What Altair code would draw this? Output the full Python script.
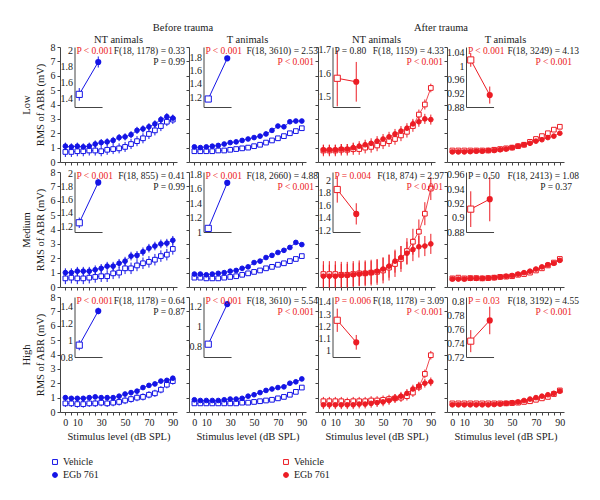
import altair as alt
import pandas as pd

FONT = "Liberation Serif"
BLUE = "#1414e6"
RED = "#ec1c24"
BLACK = "#1a1a1a"
AXC = "#444444"

LEVELS = [0, 5, 10, 15, 20, 25, 30, 35, 40, 45, 50, 55, 60, 65, 70, 75, 80, 85, 90]
LABELED = [0, 10, 30, 50, 70, 90]
ROW_NAMES = ["Low", "Medium", "High"]
COL_NAMES = ["NT animals", "T animals", "NT animals", "T animals"]
GROUP_NAMES = ["Before trauma", "After trauma"]
SERIES = ["Vehicle", "EGb 761"]

# ---------------- main curves (mean RMS of ABR, mV; +/- error) ----------------
low_nt_before = dict(
    veh=[0.7, 0.7, 0.75, 0.75, 0.8, 0.8, 0.75, 0.85, 0.9, 0.95, 1.05, 1.25, 1.45, 1.65, 1.95, 2.2, 2.5, 2.8, 2.95],
    veh_err=[0.35, 0.35, 0.35, 0.35, 0.35, 0.35, 0.35, 0.35, 0.35, 0.35, 0.35, 0.35, 0.35, 0.35, 0.35, 0.35, 0.35, 0.3, 0.3],
    egb=[1.1, 1.05, 1.1, 1.05, 1.1, 1.25, 1.35, 1.4, 1.5, 1.7, 1.75, 1.9, 2.2, 2.3, 2.45, 2.65, 2.95, 3.15, 3.05],
    egb_err=[0.25, 0.25, 0.25, 0.25, 0.25, 0.25, 0.25, 0.25, 0.25, 0.25, 0.25, 0.25, 0.25, 0.25, 0.25, 0.25, 0.25, 0.25, 0.25],
)
low_t_before = dict(
    veh=[0.75, 0.75, 0.75, 0.75, 0.8, 0.8, 0.85, 0.9, 0.95, 1.0, 1.1, 1.2, 1.35, 1.5, 1.65, 1.8, 2.0, 2.15, 2.35],
    veh_err=[0.08, 0.08, 0.08, 0.08, 0.08, 0.08, 0.08, 0.08, 0.08, 0.08, 0.08, 0.08, 0.08, 0.08, 0.08, 0.08, 0.08, 0.08, 0.08],
    egb=[1.05, 1.0, 1.05, 1.1, 1.15, 1.25, 1.35, 1.4, 1.5, 1.6, 1.7, 1.8, 1.95, 2.2, 2.5, 2.45, 2.8, 2.85, 2.85],
    egb_err=[0.12, 0.12, 0.12, 0.12, 0.12, 0.12, 0.12, 0.12, 0.12, 0.12, 0.12, 0.12, 0.12, 0.12, 0.12, 0.12, 0.12, 0.12, 0.12],
)
low_nt_after = dict(
    veh=[0.8, 0.8, 0.8, 0.85, 0.85, 0.9, 0.9, 1.0, 1.05, 1.15, 1.3, 1.45, 1.6, 1.85, 2.1, 2.5, 3.3, 4.0, 5.15],
    veh_err=[0.4, 0.4, 0.4, 0.4, 0.4, 0.4, 0.4, 0.4, 0.4, 0.4, 0.4, 0.4, 0.4, 0.4, 0.4, 0.4, 0.35, 0.35, 0.3],
    egb=[0.85, 0.85, 0.85, 0.9, 0.9, 1.0, 1.1, 1.2, 1.3, 1.45, 1.6, 1.75, 1.95, 2.15, 2.35, 2.65, 2.8, 3.0, 2.95],
    egb_err=[0.35, 0.35, 0.35, 0.35, 0.35, 0.35, 0.35, 0.35, 0.35, 0.35, 0.35, 0.35, 0.35, 0.35, 0.35, 0.35, 0.35, 0.35, 0.35],
)
low_t_after = dict(
    veh=[0.8, 0.8, 0.8, 0.8, 0.8, 0.8, 0.8, 0.85, 0.9, 0.95, 1.0, 1.1, 1.2, 1.4, 1.6, 1.8, 2.0, 2.25, 2.45],
    veh_err=[0.05, 0.05, 0.05, 0.05, 0.05, 0.05, 0.05, 0.05, 0.05, 0.05, 0.05, 0.05, 0.05, 0.05, 0.05, 0.05, 0.05, 0.05, 0.05],
    egb=[0.7, 0.7, 0.7, 0.72, 0.75, 0.75, 0.8, 0.8, 0.85, 0.9, 1.0, 1.1, 1.2, 1.3, 1.45, 1.55, 1.7, 1.8, 2.0],
    egb_err=[0.06, 0.06, 0.06, 0.06, 0.06, 0.06, 0.06, 0.06, 0.06, 0.06, 0.06, 0.06, 0.06, 0.06, 0.06, 0.06, 0.06, 0.06, 0.06],
)
med_nt_before = dict(
    veh=[0.6, 0.65, 0.6, 0.6, 0.65, 0.7, 0.75, 0.75, 0.95, 1.0, 1.3, 1.3, 1.5, 1.65, 1.75, 1.9, 2.15, 2.25, 2.65],
    veh_err=[0.4, 0.4, 0.4, 0.4, 0.4, 0.4, 0.4, 0.4, 0.4, 0.4, 0.4, 0.4, 0.4, 0.4, 0.4, 0.4, 0.4, 0.4, 0.4],
    egb=[1.0, 1.0, 1.1, 1.1, 1.1, 1.2, 1.3, 1.45, 1.45, 1.65, 1.8, 2.15, 2.2, 2.45, 2.7, 2.85, 3.0, 3.05, 3.25],
    egb_err=[0.3, 0.3, 0.3, 0.3, 0.3, 0.3, 0.3, 0.3, 0.3, 0.3, 0.3, 0.3, 0.3, 0.3, 0.3, 0.3, 0.3, 0.3, 0.3],
)
med_t_before = dict(
    veh=[0.65, 0.65, 0.6, 0.6, 0.6, 0.65, 0.7, 0.75, 0.85, 0.95, 1.05, 1.15, 1.3, 1.4, 1.55, 1.65, 1.8, 1.95, 2.15],
    veh_err=[0.08, 0.08, 0.08, 0.08, 0.08, 0.08, 0.08, 0.08, 0.08, 0.08, 0.08, 0.08, 0.08, 0.08, 0.08, 0.08, 0.08, 0.08, 0.08],
    egb=[0.9, 0.9, 0.85, 0.9, 0.95, 1.0, 1.1, 1.15, 1.3, 1.4, 1.7, 1.8, 2.05, 2.2, 2.4, 2.55, 2.75, 3.1, 2.95],
    egb_err=[0.1, 0.1, 0.1, 0.1, 0.1, 0.1, 0.1, 0.1, 0.1, 0.1, 0.1, 0.1, 0.1, 0.1, 0.1, 0.1, 0.1, 0.1, 0.1],
)
med_nt_after = dict(
    veh=[0.9, 0.9, 0.9, 0.85, 0.85, 0.9, 0.95, 0.95, 1.0, 1.05, 1.15, 1.35, 1.6, 1.95, 2.5, 3.15, 3.85, 5.1, 6.85],
    veh_err=[0.9, 0.9, 0.9, 0.9, 0.9, 0.9, 0.9, 0.9, 0.9, 0.9, 0.9, 0.9, 0.9, 0.9, 0.9, 0.9, 0.85, 0.8, 0.8],
    egb=[0.75, 0.75, 0.75, 0.8, 0.8, 0.85, 0.9, 0.95, 1.0, 1.1, 1.25, 1.45, 1.8, 2.05, 2.35, 2.6, 2.8, 2.85, 3.0],
    egb_err=[0.8, 0.8, 0.8, 0.8, 0.8, 0.8, 0.8, 0.8, 0.8, 0.8, 0.8, 0.8, 0.8, 0.8, 0.8, 0.8, 0.75, 0.7, 0.7],
)
med_t_after = dict(
    veh=[0.6, 0.65, 0.6, 0.62, 0.62, 0.6, 0.62, 0.65, 0.7, 0.72, 0.75, 0.85, 0.9, 1.0, 1.15, 1.3, 1.5, 1.7, 1.95],
    veh_err=[0.05, 0.05, 0.05, 0.05, 0.05, 0.05, 0.05, 0.05, 0.05, 0.05, 0.05, 0.05, 0.05, 0.05, 0.05, 0.05, 0.05, 0.05, 0.05],
    egb=[0.55, 0.55, 0.55, 0.6, 0.6, 0.6, 0.62, 0.65, 0.7, 0.75, 0.8, 0.9, 1.0, 1.1, 1.25, 1.4, 1.55, 1.65, 1.85],
    egb_err=[0.05, 0.05, 0.05, 0.05, 0.05, 0.05, 0.05, 0.05, 0.05, 0.05, 0.05, 0.05, 0.05, 0.05, 0.05, 0.05, 0.05, 0.05, 0.05],
)
high_nt_before = dict(
    veh=[0.6, 0.6, 0.55, 0.55, 0.6, 0.6, 0.65, 0.6, 0.65, 0.7, 0.8, 0.9, 1.0, 1.05, 1.2, 1.3, 1.55, 1.9, 2.15],
    veh_err=[0.25, 0.25, 0.25, 0.25, 0.25, 0.25, 0.25, 0.25, 0.25, 0.25, 0.25, 0.25, 0.25, 0.25, 0.25, 0.25, 0.25, 0.25, 0.25],
    egb=[1.0, 0.95, 0.95, 0.95, 1.0, 1.05, 1.0, 1.0, 1.0, 1.1, 1.25, 1.35, 1.45, 1.7, 1.85, 1.95, 2.15, 2.2, 2.35],
    egb_err=[0.15, 0.15, 0.15, 0.15, 0.15, 0.15, 0.15, 0.15, 0.15, 0.15, 0.15, 0.15, 0.15, 0.15, 0.15, 0.15, 0.15, 0.15, 0.15],
)
high_t_before = dict(
    veh=[0.6, 0.6, 0.6, 0.6, 0.6, 0.6, 0.6, 0.6, 0.65, 0.65, 0.7, 0.75, 0.8, 0.85, 0.95, 1.05, 1.2, 1.4, 1.7],
    veh_err=[0.06, 0.06, 0.06, 0.06, 0.06, 0.06, 0.06, 0.06, 0.06, 0.06, 0.06, 0.06, 0.06, 0.06, 0.06, 0.06, 0.06, 0.06, 0.06],
    egb=[0.85, 0.8, 0.8, 0.8, 0.8, 0.85, 0.9, 0.9, 0.95, 1.1, 1.2, 1.35, 1.5, 1.6, 1.7, 1.75, 2.0, 2.1, 2.3],
    egb_err=[0.06, 0.06, 0.06, 0.06, 0.06, 0.06, 0.06, 0.06, 0.06, 0.06, 0.06, 0.06, 0.06, 0.06, 0.06, 0.06, 0.06, 0.06, 0.06],
)
high_nt_after = dict(
    veh=[0.75, 0.75, 0.75, 0.75, 0.7, 0.75, 0.75, 0.75, 0.8, 0.8, 0.85, 0.9, 0.95, 1.0, 1.1, 1.35, 1.75, 2.65, 3.95],
    veh_err=[0.3, 0.3, 0.3, 0.3, 0.3, 0.3, 0.3, 0.3, 0.3, 0.3, 0.3, 0.3, 0.3, 0.3, 0.3, 0.3, 0.3, 0.3, 0.3],
    egb=[0.5, 0.5, 0.5, 0.5, 0.5, 0.5, 0.55, 0.55, 0.6, 0.65, 0.7, 0.8, 0.95, 1.1, 1.3, 1.6, 1.8, 2.0, 2.1],
    egb_err=[0.3, 0.3, 0.3, 0.3, 0.3, 0.3, 0.3, 0.3, 0.3, 0.3, 0.3, 0.3, 0.3, 0.3, 0.3, 0.3, 0.3, 0.3, 0.3],
)
high_t_after = dict(
    veh=[0.6, 0.6, 0.6, 0.6, 0.6, 0.6, 0.6, 0.6, 0.6, 0.6, 0.62, 0.65, 0.7, 0.75, 0.85, 0.95, 1.05, 1.25, 1.5],
    veh_err=[0.04, 0.04, 0.04, 0.04, 0.04, 0.04, 0.04, 0.04, 0.04, 0.04, 0.04, 0.04, 0.04, 0.04, 0.04, 0.04, 0.04, 0.04, 0.04],
    egb=[0.5, 0.5, 0.5, 0.5, 0.5, 0.5, 0.5, 0.52, 0.55, 0.6, 0.65, 0.7, 0.8, 0.9, 1.0, 1.1, 1.2, 1.3, 1.45],
    egb_err=[0.04, 0.04, 0.04, 0.04, 0.04, 0.04, 0.04, 0.04, 0.04, 0.04, 0.04, 0.04, 0.04, 0.04, 0.04, 0.04, 0.04, 0.04, 0.04],
)

# ---------------- insets (overall mean +/- error, axis domain and ticks) ----------------
low_nt_before_in = dict(veh=1.45, veh_err=0.08, egb=1.86, egb_err=0.07, lo=1.29, hi=2.05, ticks=[1.4, 1.6, 1.8, 2.0])
low_t_before_in = dict(veh=1.17, veh_err=0.03, egb=1.78, egb_err=0.04, lo=1.05, hi=1.95, ticks=[1.2, 1.4, 1.6, 1.8])
low_nt_after_in = dict(veh=1.578, veh_err=0.12, egb=1.563, egb_err=0.085, lo=1.455, hi=1.712, ticks=[1.5, 1.6, 1.7])
low_t_after_in = dict(veh=1.018, veh_err=0.02, egb=0.915, egb_err=0.025, lo=0.88, hi=1.056, ticks=[0.88, 0.92, 0.96, 1.0, 1.04])
med_nt_before_in = dict(veh=1.25, veh_err=0.08, egb=1.87, egb_err=0.05, lo=1.108, hi=2.03, ticks=[1.2, 1.4, 1.6, 1.8, 2.0])
med_t_before_in = dict(veh=1.05, veh_err=0.03, egb=1.68, egb_err=0.04, lo=1.0, hi=1.83, ticks=[1.0, 1.2, 1.4, 1.6, 1.8])
med_nt_after_in = dict(veh=1.85, veh_err=0.21, egb=1.46, egb_err=0.17, lo=1.17, hi=2.13, ticks=[1.2, 1.4, 1.6, 1.8, 2.0])
med_t_after_in = dict(veh=0.912, veh_err=0.025, egb=0.926, egb_err=0.031, lo=0.88, hi=0.964, ticks=[0.88, 0.9, 0.92, 0.94, 0.96])
high_nt_before_in = dict(veh=0.94, veh_err=0.06, egb=1.344, egb_err=0.04, lo=0.8, hi=1.51, ticks=[0.8, 1.0, 1.2, 1.4])
high_t_before_in = dict(veh=0.826, veh_err=0.02, egb=1.22, egb_err=0.02, lo=0.70, hi=1.29, ticks=[0.8, 1.0, 1.2])
high_nt_after_in = dict(veh=1.25, veh_err=0.095, egb=1.07, egb_err=0.06, lo=0.95, hi=1.44, ticks=[1.0, 1.1, 1.2, 1.3, 1.4])
high_t_after_in = dict(veh=0.743, veh_err=0.016, egb=0.773, egb_err=0.02, lo=0.72, hi=0.807, ticks=[0.72, 0.74, 0.76, 0.78, 0.8])

# ---------------- statistics text: (inset P, significant?, F text, P text, significant?) ----------------
low_stats = [
    ("P < 0.001", True, "F(18, 1178) = 0.33", "P = 0.99", False),
    ("P < 0.001", True, "F(18, 3610) = 2.53", "P < 0.001", True),
    ("P = 0.80", False, "F(18, 1159) = 4.33", "P < 0.001", True),
    ("P < 0.001", True, "F(18, 3249) = 4.13", "P < 0.001", True),
]
med_stats = [
    ("P < 0.001", True, "F(18, 855) = 0.41", "P = 0.99", False),
    ("P < 0.001", True, "F(18, 2660) = 4.88", "P < 0.001", True),
    ("P = 0.004", True, "F(18, 874) = 2.97", "P < 0.001", True),
    ("P = 0.50", False, "F(18, 2413) = 1.08", "P = 0.37", False),
]
high_stats = [
    ("P < 0.001", True, "F(18, 1178) = 0.64", "P = 0.87", False),
    ("P < 0.001", True, "F(18, 3610) = 5.54", "P < 0.001", True),
    ("P = 0.006", True, "F(18, 1178) = 3.09", "P < 0.001", True),
    ("P = 0.03", True, "F(18, 3192) = 4.55", "P < 0.001", True),
]

MAIN = [
    [low_nt_before, low_t_before, low_nt_after, low_t_after],
    [med_nt_before, med_t_before, med_nt_after, med_t_after],
    [high_nt_before, high_t_before, high_nt_after, high_t_after],
]
INSETS = [
    [low_nt_before_in, low_t_before_in, low_nt_after_in, low_t_after_in],
    [med_nt_before_in, med_t_before_in, med_nt_after_in, med_t_after_in],
    [high_nt_before_in, high_t_before_in, high_nt_after_in, high_t_after_in],
]
STATS = [low_stats, med_stats, high_stats]

# ---------------- layout ----------------
W, H = 117, 115
INSET_H = 60
SPACE_COL, SPACE_ROW = 12, 10
F_RIGHT = [8, 12, 9, 15]
ANN_SIZE = 9.5


def txt(s, x, y, color=BLACK, align="left", size=ANN_SIZE):
    return alt.Chart(pd.DataFrame({"t": [s]})).mark_text(
        font=FONT, fontSize=size, align=align, baseline="alphabetic", color=color
    ).encode(text="t:N", x=alt.value(x), y=alt.value(y))


def panel(r, c):
    color = BLUE if c < 2 else RED
    d = MAIN[r][c]
    rows = []
    for name, key in zip(SERIES, ["veh", "egb"]):
        for x, m, e in zip(LEVELS, d[key], d[key + "_err"]):
            rows.append(dict(x=x, m=m, lo=m - e, hi=m + e, grp=name))
    df = pd.DataFrame(rows)

    xaxis = alt.Axis(
        values=LEVELS,
        labels=(r == 2),
        labelExpr="indexof([0, 10, 30, 50, 70, 90], datum.value) >= 0 ? datum.label : ''",
        title="Stimulus level (dB SPL)" if r == 2 else None,
        tickSize=3, labelPadding=2, titlePadding=4, grid=False,
    )
    yaxis = alt.Axis(
        values=[0, 1, 2, 3, 4, 5, 6, 7, 8],
        labels=(c == 0),
        title=[ROW_NAMES[r], "RMS of ABR (mV)"] if c == 0 else None,
        tickSize=3, labelPadding=2, titlePadding=5, titleLineHeight=14, grid=False,
    )
    xs = alt.Scale(domain=[-4.5, 93.5], nice=False, zero=False)
    ys = alt.Scale(domain=[0, 8], nice=False, zero=False)

    base = alt.Chart(df)
    bars = base.mark_rule(color=color, strokeWidth=1).encode(
        x=alt.X("x:Q", scale=xs, axis=xaxis),
        y=alt.Y("lo:Q", scale=ys, axis=yaxis),
        y2="hi:Q",
    )
    lines = base.mark_line(color=color, strokeWidth=0.8).encode(
        x=alt.X("x:Q", scale=xs, axis=xaxis),
        y=alt.Y("m:Q", scale=ys, axis=yaxis),
        detail="grp:N",
    )
    show_legend = (r == 2 and c in (0, 2))
    if show_legend:
        leg = alt.Legend(
            title=None, orient="none", legendX=-10 if c == 0 else -37, legendY=160,
            labelFont=FONT, labelFontSize=10, labelColor=BLACK, symbolSize=24,
            symbolStrokeWidth=1, rowPadding=3, labelOffset=3, symbolOffset=0, padding=0,
        )
    else:
        leg = None
    pts = base.mark_point(strokeWidth=1, size=22, opacity=1).encode(
        x=alt.X("x:Q", scale=xs, axis=xaxis),
        y=alt.Y("m:Q", scale=ys, axis=yaxis),
        shape=alt.Shape("grp:N", scale=alt.Scale(domain=SERIES, range=["square", "circle"]), legend=leg),
        fill=alt.Fill("grp:N", scale=alt.Scale(domain=SERIES, range=["white", color]), legend=leg),
        stroke=alt.Stroke("grp:N", scale=alt.Scale(domain=SERIES, range=[color, color]), legend=leg),
    )
    main = alt.layer(bars, lines, pts)

    # inset
    ins = INSETS[r][c]
    x0 = 19 if c == 3 else 14.5
    idf = pd.DataFrame([
        dict(ix=1, m=ins["veh"], lo=ins["veh"] - ins["veh_err"], hi=ins["veh"] + ins["veh_err"], grp="Vehicle"),
        dict(ix=2, m=ins["egb"], lo=ins["egb"] - ins["egb_err"], hi=ins["egb"] + ins["egb_err"], grp="EGb 761"),
    ])
    ixs = alt.Scale(domain=[0.75, 2.2], range=[x0, x0 + 27.55], nice=False, zero=False)
    iys = alt.Scale(domain=[ins["lo"], ins["hi"]], range=[INSET_H, 0], nice=False, zero=False)
    ixaxis = alt.Axis(orient="bottom", offset=INSET_H - H, labels=False, ticks=False, title=None, grid=False)
    iyaxis = alt.Axis(orient="left", offset=-x0, values=ins["ticks"], format="~g", ticks=False,
                      labelPadding=2, title=None, grid=False)
    ib = alt.Chart(idf)
    ibars = ib.mark_rule(color=color, strokeWidth=1).encode(
        x=alt.X("ix:Q", scale=ixs, axis=ixaxis), y=alt.Y("lo:Q", scale=iys, axis=iyaxis), y2="hi:Q")
    iline = ib.mark_line(color=color, strokeWidth=1).encode(
        x=alt.X("ix:Q", scale=ixs, axis=ixaxis), y=alt.Y("m:Q", scale=iys, axis=iyaxis))
    iveh = ib.transform_filter("datum.grp == 'Vehicle'").mark_point(
        shape="square", color=color, fill="white", filled=False, strokeWidth=1, size=38, opacity=1
    ).encode(x=alt.X("ix:Q", scale=ixs, axis=ixaxis), y=alt.Y("m:Q", scale=iys, axis=iyaxis))
    iegb = ib.transform_filter("datum.grp == 'EGb 761'").mark_point(
        shape="circle", color=color, filled=True, size=38, opacity=1
    ).encode(x=alt.X("ix:Q", scale=ixs, axis=ixaxis), y=alt.Y("m:Q", scale=iys, axis=iyaxis))
    inset = alt.layer(ibars, iline, iveh, iegb)

    p_in, sig_in, ftxt, ptxt, sig = STATS[r][c]
    texts = [
        txt(p_in, x0 + 2, 7, RED if sig_in else BLACK),
        txt(ftxt, W + F_RIGHT[c], 7, BLACK, align="right"),
        txt(ptxt, W + 8, 18, RED if sig else BLACK, align="right"),
    ]
    if r == 0:
        texts.append(txt(COL_NAMES[c], W / 2, -4, BLACK, align="center", size=10.5))
        if c in (0, 2):
            texts.append(txt(GROUP_NAMES[c // 2], W + SPACE_COL / 2, -16, BLACK, align="center", size=10.5))

    return alt.layer(main, inset, *texts).resolve_scale(x="independent", y="independent").properties(
        width=W, height=H)


panels = [panel(r, c) for r in range(3) for c in range(4)]

chart = alt.concat(
    *panels, columns=4, spacing={"row": SPACE_ROW, "column": SPACE_COL}, bounds="flush",
    padding={"left": 13, "top": 15, "right": 5, "bottom": 5},
).resolve_scale(fill="independent", shape="independent", stroke="independent").configure_view(
    stroke=None
).configure_axis(
    domainColor=AXC, tickColor=AXC, labelFont=FONT, labelFontSize=10, labelColor=BLACK,
    titleFont=FONT, titleFontSize=10.5, titleFontWeight="normal", titleColor=BLACK,
    domainWidth=1, tickWidth=1,
)

chart.save("out.html", embed_options={"renderer": "svg", "actions": False})
